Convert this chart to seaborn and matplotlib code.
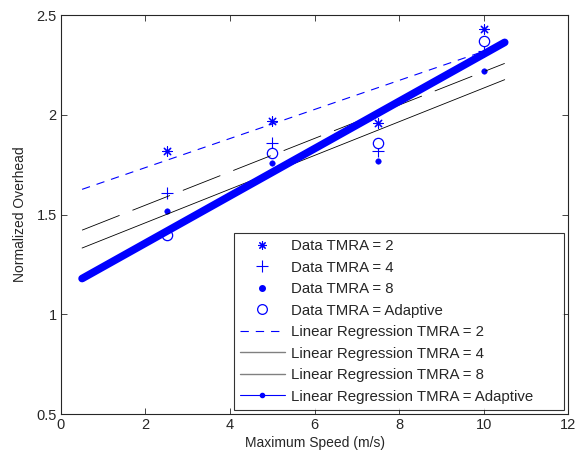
import numpy as np
import pandas as pd
import matplotlib
matplotlib.use("Agg")
import matplotlib.pyplot as plt
from matplotlib.lines import Line2D
import seaborn as sns

# DATA
speed = [2.5, 5, 7.5, 10]
tmra_2 = [1.82, 1.97, 1.96, 2.43]
tmra_4 = [1.61, 1.86, 1.82, 2.32]
tmra_8 = [1.52, 1.76, 1.77, 2.22]
tmra_adaptive = [1.40, 1.81, 1.86, 2.37]
fit_range = [0.5, 10.5]

# CONFIG
sns.set_style("ticks")
plt.rcParams["font.family"] = ["Liberation Sans", "DejaVu Sans"]
plt.rcParams["lines.scale_dashes"] = False
blue = "#0000ff"
star = (8, 2, 0)

fig = plt.figure(figsize=(5.75, 4.57), dpi=100)
ax = fig.add_axes([0.106, 0.094, 0.882, 0.873])

df = pd.DataFrame({"speed": speed, "2": tmra_2, "4": tmra_4,
                   "8": tmra_8, "Adaptive": tmra_adaptive})

# regression lines
xfit = np.array(fit_range)
fits = {}
for key in ["2", "4", "8", "Adaptive"]:
    slope, icpt = np.polyfit(df["speed"], df[key], 1)
    fits[key] = slope * xfit + icpt

line_styles = {
    "2": dict(color=blue, lw=0.8, linestyle=(0, (6, 5))),
    "4": dict(color="black", lw=0.6, linestyle=(0, (29, 10))),
    "8": dict(color="black", lw=0.6, linestyle="-"),
    "Adaptive": dict(color=blue, lw=5.5, linestyle="-", solid_capstyle="round"),
}
for key, st in line_styles.items():
    sns.lineplot(x=xfit, y=fits[key], ax=ax, legend=False, **st)

# data points
sns.scatterplot(data=df, x="speed", y="2", ax=ax, marker=star, s=45,
                color=blue, linewidth=0.8, edgecolor=blue, legend=False)
sns.scatterplot(data=df, x="speed", y="4", ax=ax, marker="+", s=70,
                color=blue, linewidth=0.8, legend=False)
sns.scatterplot(data=df, x="speed", y="8", ax=ax, marker="o", s=16,
                color=blue, edgecolor=blue, legend=False)
sns.scatterplot(data=df, x="speed", y="Adaptive", ax=ax, marker="o", s=55,
                facecolor="white", edgecolor=blue, linewidth=0.9, legend=False)

ax.set_xlim(0, 12)
ax.set_ylim(0.5, 2.5)
ax.set_xticks(range(0, 13, 2))
ax.set_yticks([0.5, 1, 1.5, 2, 2.5])
ax.set_yticklabels(["0.5", "1", "1.5", "2", "2.5"])
ax.tick_params(direction="in", top=True, right=True, labelsize=10.5,
               length=4, width=0.6, pad=3)
for sp in ax.spines.values():
    sp.set_linewidth(0.8)
    sp.set_visible(True)
ax.set_xlabel("Maximum Speed (m/s)", fontsize=10, labelpad=3)
ax.set_ylabel("Normalized Overhead", fontsize=10, labelpad=7)

handles = [
    Line2D([], [], ls="none", marker=star, ms=6, color=blue, mew=0.8),
    Line2D([], [], ls="none", marker="+", ms=8, color=blue, mew=0.8),
    Line2D([], [], ls="none", marker="o", ms=4, color=blue),
    Line2D([], [], ls="none", marker="o", ms=7, mfc="white", mec=blue, mew=0.9),
    Line2D([], [], color=blue, lw=0.8, ls=(0, (6, 5))),
    Line2D([], [], color="gray", lw=1.0),
    Line2D([], [], color="gray", lw=1.0),
    Line2D([], [], color=blue, lw=0.8, marker="o", ms=3),
]
labels = ["Data TMRA = 2", "Data TMRA = 4", "Data TMRA = 8",
          "Data TMRA = Adaptive", "Linear Regression TMRA = 2",
          "Linear Regression TMRA = 4", "Linear Regression TMRA = 8",
          "Linear Regression TMRA = Adaptive      "]
leg = ax.legend(handles, labels, loc="lower right", fontsize=10.8,
                handlelength=3.0, handletextpad=0.4, labelspacing=0.5,
                borderaxespad=0.3, borderpad=0.4, frameon=True, fancybox=False,
                edgecolor="black")
leg.get_frame().set_linewidth(0.8)

fig.savefig("out.png", dpi=100)
